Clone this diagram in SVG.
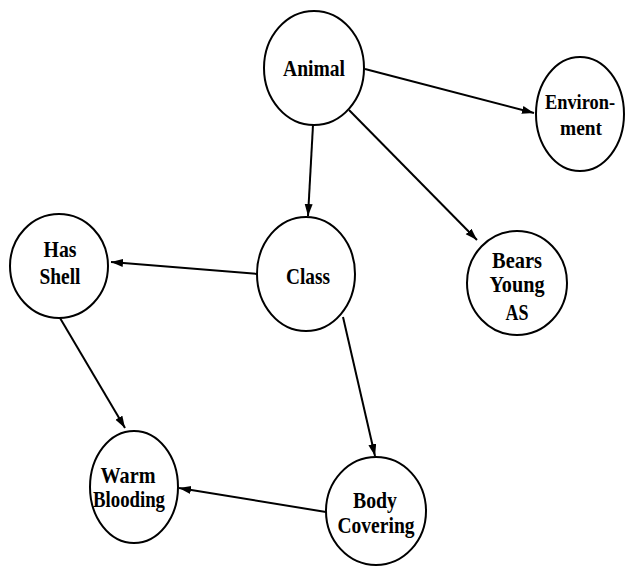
<svg xmlns="http://www.w3.org/2000/svg" width="625" height="566" viewBox="0 0 625 566">
  <style>
    .node ellipse { fill: #fff; stroke: #000; stroke-width: 2; }
    .node text { font-family: "Liberation Serif", "Times New Roman", serif; font-weight: bold; font-size: 23.5px; text-anchor: middle; fill: #000; }
    .node text.tight { font-size: 22px; }
    .edge { stroke: #000; stroke-width: 2; fill: none; marker-end: url(#arrow); }
  </style>
  <defs>
    <marker id="arrow" markerUnits="userSpaceOnUse" markerWidth="13" markerHeight="9" refX="12" refY="4" orient="auto">
      <path d="M0,0 L12,4 L0,8 z" fill="#000"/>
    </marker>
  </defs>
  <rect width="625" height="566" fill="#fff"/>

  <g id="connectors">
    <line class="edge" x1="365" y1="69" x2="534" y2="113"/>
    <line class="edge" x1="313" y1="125" x2="308" y2="216"/>
    <line class="edge" x1="349" y1="110" x2="477" y2="240"/>
    <line class="edge" x1="258" y1="274" x2="111" y2="262"/>
    <line class="edge" x1="60" y1="318" x2="125" y2="428"/>
    <line class="edge" x1="343" y1="317" x2="375" y2="456"/>
    <line class="edge" x1="326" y1="512" x2="179" y2="488"/>
  </g>

  <g id="animal" class="node">
    <ellipse cx="314" cy="68" rx="50" ry="57"/>
    <text x="314" y="76" textLength="62" lengthAdjust="spacingAndGlyphs">Animal</text>
  </g>
  <g id="environment" class="node">
    <ellipse cx="580" cy="114" rx="44" ry="57"/>
    <text class="tight" x="580" y="109" textLength="70" lengthAdjust="spacingAndGlyphs">Environ-</text>
    <text class="tight" x="581" y="135" textLength="42" lengthAdjust="spacingAndGlyphs">ment</text>
  </g>
  <g id="class" class="node">
    <ellipse cx="306" cy="274" rx="49" ry="57"/>
    <text x="308" y="284" textLength="44" lengthAdjust="spacingAndGlyphs">Class</text>
  </g>
  <g id="has-shell" class="node">
    <ellipse cx="59" cy="266" rx="49" ry="52"/>
    <text x="60" y="257" textLength="33" lengthAdjust="spacingAndGlyphs">Has</text>
    <text x="60" y="284" textLength="41" lengthAdjust="spacingAndGlyphs">Shell</text>
  </g>
  <g id="bears-young" class="node">
    <ellipse cx="517" cy="283" rx="50" ry="52"/>
    <text x="517" y="268" textLength="50" lengthAdjust="spacingAndGlyphs">Bears</text>
    <text x="517" y="292" textLength="55" lengthAdjust="spacingAndGlyphs">Young</text>
    <text x="517" y="320" textLength="23" lengthAdjust="spacingAndGlyphs">AS</text>
  </g>
  <g id="warm-blooding" class="node">
    <ellipse cx="134" cy="487" rx="44" ry="56"/>
    <text x="128" y="483" textLength="55" lengthAdjust="spacingAndGlyphs">Warm</text>
    <text x="129" y="507" textLength="72" lengthAdjust="spacingAndGlyphs">Blooding</text>
  </g>
  <g id="body-covering" class="node">
    <ellipse cx="376" cy="511" rx="50" ry="54"/>
    <text x="375" y="508" textLength="44" lengthAdjust="spacingAndGlyphs">Body</text>
    <text x="376" y="533" textLength="77" lengthAdjust="spacingAndGlyphs">Covering</text>
  </g>
</svg>
